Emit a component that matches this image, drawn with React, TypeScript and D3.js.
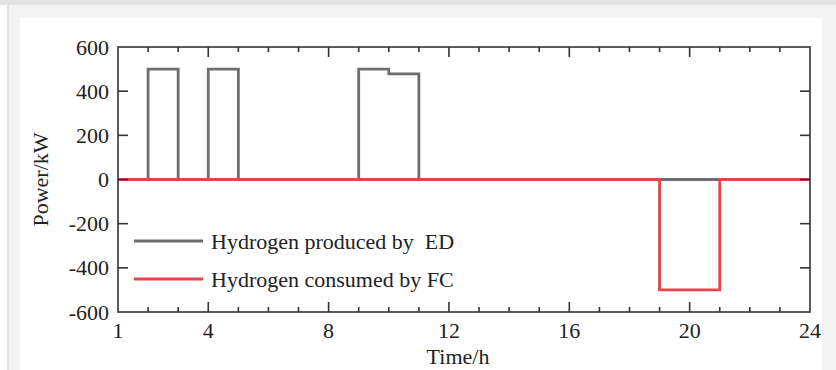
import React, { useEffect, useRef } from 'react';
import * as d3 from 'd3';

// hourly values, step drawn from hour h to h+1
const hours = [1, 2, 3, 4, 5, 6, 7, 8, 9, 10, 11, 12, 13, 14, 15, 16, 17, 18, 19, 20, 21, 22, 23, 24];
const edPower = [0, 500, 0, 500, 0, 0, 0, 0, 500, 478, 0, 0, 0, 0, 0, 0, 0, 0, 0, 0, 0, 0, 0, 0];
const fcPower = [0, 0, 0, 0, 0, 0, 0, 0, 0, 0, 0, 0, 0, 0, 0, 0, 0, 0, -500, -500, 0, 0, 0, 0];
const xTickLabels = [1, 4, 8, 12, 16, 20, 24];
const yTickLabels = [-600, -400, -200, 0, 200, 400, 600];
const seriesNames = ['Hydrogen produced by  ED', 'Hydrogen consumed by FC'];

const W = 836;
const H = 370;

export default function App() {
  const ref = useRef<SVGSVGElement | null>(null);

  useEffect(() => {
    const svg = d3.select(ref.current);
    svg.selectAll('*').remove();

    // page frame
    svg.append('rect').attr('width', W).attr('height', H).attr('fill', '#f3f3f3');
    svg.append('rect').attr('width', W).attr('height', 5).attr('fill', '#e3e3e3');
    svg.append('rect').attr('x', 0).attr('y', 5).attr('width', 7).attr('height', H).attr('fill', '#ffffff');
    svg.append('rect').attr('x', 7).attr('y', 5).attr('width', 2).attr('height', H).attr('fill', '#e2e2e2');
    svg.append('rect').attr('x', 20).attr('y', 18).attr('width', 802).attr('height', H - 18).attr('fill', '#ffffff');

    const left = 118, right = 810, top = 47, bottom = 312;
    const x = d3.scaleLinear().domain([1, 24]).range([left, right]);
    const y = d3.scaleLinear().domain([-600, 600]).range([bottom, top]);

    const font = '"Liberation Serif", "Times New Roman", serif';
    const axisColor = '#333';

    const line = d3.line<number>()
      .x((d, i) => x(hours[i]))
      .y(d => y(d))
      .curve(d3.curveStepAfter);

    svg.append('path')
      .attr('d', line(edPower))
      .attr('fill', 'none')
      .attr('stroke', '#6e6e70')
      .attr('stroke-width', 2.8);

    svg.append('path')
      .attr('d', line(fcPower))
      .attr('fill', 'none')
      .attr('stroke', '#e8424b')
      .attr('stroke-width', 2.8);

    // frame + inward ticks
    svg.append('rect')
      .attr('x', left).attr('y', top)
      .attr('width', right - left).attr('height', bottom - top)
      .attr('fill', 'none').attr('stroke', axisColor).attr('stroke-width', 1.6);

    const g = svg.append('g').attr('stroke', axisColor).attr('stroke-width', 1.6);
    d3.range(2, 24).forEach(h => {
      const len = h % 4 === 0 ? 10 : 5;
      g.append('line').attr('x1', x(h)).attr('x2', x(h)).attr('y1', bottom).attr('y2', bottom - len);
      g.append('line').attr('x1', x(h)).attr('x2', x(h)).attr('y1', top).attr('y2', top + len);
    });
    yTickLabels.slice(1, -1).forEach(v => {
      g.append('line').attr('x1', left).attr('x2', left + 10).attr('y1', y(v)).attr('y2', y(v));
      g.append('line').attr('x1', right).attr('x2', right - 10).attr('y1', y(v)).attr('y2', y(v));
    });

    const txt = svg.append('g').attr('font-family', font).attr('font-size', 22).attr('fill', '#222');
    xTickLabels.forEach(v => {
      txt.append('text').attr('x', x(v)).attr('y', bottom + 26).attr('text-anchor', 'middle').text(v);
    });
    yTickLabels.forEach(v => {
      txt.append('text').attr('x', left - 9).attr('y', y(v) + 7.5).attr('text-anchor', 'end').text(v);
    });

    txt.append('text')
      .attr('x', 458).attr('y', 364)
      .attr('text-anchor', 'middle').text('Time/h');
    txt.append('text')
      .attr('transform', `translate(48,${(top + bottom) / 2}) rotate(-90)`)
      .attr('text-anchor', 'middle').text('Power/kW');

    // legend
    const colors = ['#6e6e70', '#e8424b'];
    seriesNames.forEach((name, i) => {
      const ly = 241 + i * 38;
      svg.append('line')
        .attr('x1', 134).attr('x2', 203).attr('y1', ly).attr('y2', ly)
        .attr('stroke', colors[i]).attr('stroke-width', 2.8);
      txt.append('text').attr('x', 211).attr('y', ly + 8).attr('xml:space', 'preserve')
        .style('white-space', 'pre').text(name);
    });
  }, []);

  return (
    <svg ref={ref} width={W} height={H}
      style={{ position: 'fixed', left: 0, top: 0, display: 'block' }} />
  );
}
